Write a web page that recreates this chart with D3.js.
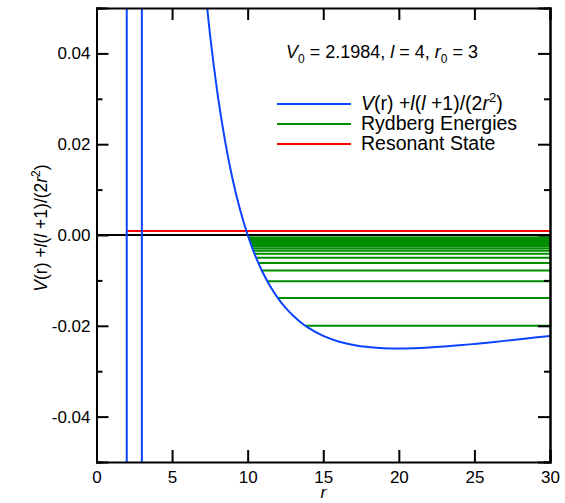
<!DOCTYPE html>
<html lang="en">
<head>
<meta charset="utf-8">
<title>Rydberg energies</title>
<script src="https://d3js.org/d3.v7.js"></script>
<style>
  body { margin: 0; background: #fff; }
  text { font-family: "Liberation Sans", Arial, Helvetica, sans-serif; fill: #000; }
</style>
</head>
<body>
<div id="chart"></div>
<script>
// potential curve (r, V)
const potR = [3, 4, 5, 6, 7, 7.25, 7.5, 7.75, 8, 8.5, 9, 9.5, 10, 10.5, 11, 11.5, 12, 12.5, 13, 13.5, 14, 15, 16, 17, 18, 19, 20, 21, 22, 23, 24, 25, 26, 27, 28, 29, 30];
const potV = [0.778, 0.375, 0.2, 0.1111, 0.0612, 0.0523, 0.0444, 0.0375, 0.03125, 0.0208, 0.01235, 0.00554, 0, -0.00454, -0.00826, -0.01134, -0.01389, -0.016, -0.01775, -0.0192, -0.02041, -0.02222, -0.02344, -0.02422, -0.02469, -0.02493, -0.025, -0.02494, -0.02479, -0.02457, -0.02431, -0.024, -0.02367, -0.02332, -0.02296, -0.02259, -0.02222];
// square well walls
const wellR = [2, 2, 3, 3];
const wellV = [2.0, -2.2, -2.2, 0.778];

// Rydberg levels: energy and left turning point
const rydE = [-0.02, -0.01389, -0.0102, -0.00781, -0.00617, -0.005, -0.00413, -0.00347, -0.00296, -0.00255, -0.00222, -0.00195, -0.00173, -0.00154, -0.00139, -0.00125, -0.00113, -0.00103, -0.00095, -0.00087, -0.0008, -0.00074, -0.00069, -0.00064, -0.0006, -0.00056];
const rydR = [13.82, 12.0, 11.3, 10.93, 10.71, 10.56, 10.45, 10.37, 10.31, 10.27, 10.23, 10.2, 10.18, 10.16, 10.14, 10.13, 10.12, 10.11, 10.1, 10.09, 10.08, 10.08, 10.07, 10.07, 10.06, 10.06];

// resonant state
const resE = 0.0009;
const resR = [2, 30];

const xTicks = [0, 5, 10, 15, 20, 25, 30];
const yTicks = [-0.04, -0.02, 0, 0.02, 0.04];
const yMinor = [-0.03, -0.01, 0.01, 0.03];

const W = 565, H = 503;
const margin = {top: 8, right: 15, bottom: 41, left: 96.5};
const width = W - margin.left - margin.right;
const height = H - margin.top - margin.bottom;

const svg = d3.select("#chart").append("svg")
  .attr("width", W).attr("height", H);
const g = svg.append("g").attr("transform", `translate(${margin.left},${margin.top})`);

const x = d3.scaleLinear().domain([0, 30]).range([0, width]);
const y = d3.scaleLinear().domain([-0.05, 0.05]).range([height, 0]);

svg.append("defs").append("clipPath").attr("id", "clip")
  .append("rect").attr("width", width).attr("height", height);

const plot = g.append("g").attr("clip-path", "url(#clip)");

// zero line
plot.append("line")
  .attr("x1", 0).attr("x2", width)
  .attr("y1", y(0)).attr("y2", y(0))
  .attr("stroke", "#000").attr("stroke-width", 2);

// Rydberg lines
rydE.forEach((e, i) => {
  plot.append("line")
    .attr("x1", x(rydR[i])).attr("x2", x(30))
    .attr("y1", y(e)).attr("y2", y(e))
    .attr("stroke", "#008e00").attr("stroke-width", 2);
});

// resonant state
plot.append("line")
  .attr("x1", x(resR[0])).attr("x2", x(resR[1]))
  .attr("y1", y(resE)).attr("y2", y(resE))
  .attr("stroke", "#ff0000").attr("stroke-width", 2);

// potential
const blue = "#0a44ff";
plot.append("path")
  .attr("d", d3.line().x((d, i) => x(wellR[i])).y((d, i) => y(wellV[i]))(wellR))
  .attr("fill", "none").attr("stroke", blue).attr("stroke-width", 2);
plot.append("path")
  .attr("d", d3.line().curve(d3.curveMonotoneX).x((d, i) => x(potR[i])).y((d, i) => y(potV[i]))(potR))
  .attr("fill", "none").attr("stroke", blue).attr("stroke-width", 2);

// axes (ticks inward, mirrored)
const tl = 12;
g.append("g").attr("transform", `translate(0,${height})`)
  .call(d3.axisBottom(x).tickValues(xTicks).tickSize(-tl).tickPadding(9));
g.append("g")
  .call(d3.axisTop(x).tickValues(xTicks).tickSize(-tl).tickFormat(""));
g.append("g")
  .call(d3.axisLeft(y).tickValues(yTicks).tickSize(-tl).tickPadding(6)
    .tickFormat(d => d3.format(".2f")(d).replace("\u2212", "-")));
g.append("g").attr("transform", `translate(${width},0)`)
  .call(d3.axisRight(y).tickValues(yTicks).tickSize(-tl).tickFormat(""));
g.append("g").call(d3.axisLeft(y).tickValues(yMinor).tickSize(-6).tickFormat(""));
g.append("g").attr("transform", `translate(${width},0)`)
  .call(d3.axisRight(y).tickValues(yMinor).tickSize(-6).tickFormat(""));

g.selectAll(".domain").attr("stroke", "#000").attr("stroke-width", 2);
g.selectAll(".tick line").attr("stroke", "#000").attr("stroke-width", 2);
g.selectAll(".tick text").style("font-size", "17px").attr("fill", "#000")
  .style("font-family", "'Liberation Sans', Arial, sans-serif");

// axis titles
svg.append("text")
  .attr("x", margin.left + x(15)).attr("y", 498)
  .attr("text-anchor", "middle").style("font-size", "17px").style("font-style", "italic")
  .text("r");

const yl = svg.append("text")
  .attr("transform", `translate(47,228) rotate(-90)`)
  .attr("text-anchor", "middle").style("font-size", "17.5px");
yl.append("tspan").style("font-style", "italic").text("V");
yl.append("tspan").text("(r) +");
yl.append("tspan").style("font-style", "italic").text("l");
yl.append("tspan").text("(");
yl.append("tspan").style("font-style", "italic").text("l");
yl.append("tspan").text(" +1)/(2");
yl.append("tspan").style("font-style", "italic").text("r");
yl.append("tspan").attr("dy", -7).style("font-size", "12px").text("2");
yl.append("tspan").attr("dy", 7).text(")");

// annotation
const ann = svg.append("text").attr("x", 286).attr("y", 58).style("font-size", "18px");
ann.append("tspan").style("font-style", "italic").text("V");
ann.append("tspan").attr("dy", 5).style("font-size", "12px").text("0");
ann.append("tspan").attr("dy", -5).text(" = 2.1984, ");
ann.append("tspan").style("font-style", "italic").text("l");
ann.append("tspan").text(" = 4, ");
ann.append("tspan").style("font-style", "italic").text("r");
ann.append("tspan").attr("dy", 5).style("font-size", "12px").text("0");
ann.append("tspan").attr("dy", -5).text(" = 3");

// legend
const legColors = [blue, "#008e00", "#ff0000"];
const legY = [104, 124, 144];
legColors.forEach((c, i) => {
  svg.append("line").attr("x1", 277).attr("x2", 351)
    .attr("y1", legY[i]).attr("y2", legY[i])
    .attr("stroke", c).attr("stroke-width", 2);
});
const l1 = svg.append("text").attr("x", 361).attr("y", legY[0] + 6).style("font-size", "19.5px");
l1.append("tspan").style("font-style", "italic").text("V");
l1.append("tspan").text("(r) +");
l1.append("tspan").style("font-style", "italic").text("l");
l1.append("tspan").text("(");
l1.append("tspan").style("font-style", "italic").text("l");
l1.append("tspan").text(" +1)/(2");
l1.append("tspan").style("font-style", "italic").text("r");
l1.append("tspan").attr("dy", -8).style("font-size", "13px").text("2");
l1.append("tspan").attr("dy", 8).text(")");
svg.append("text").attr("x", 361).attr("y", legY[1] + 6).style("font-size", "19.5px").text("Rydberg Energies");
svg.append("text").attr("x", 361).attr("y", legY[2] + 6).style("font-size", "19.5px").text("Resonant State");
</script>
</body>
</html>
